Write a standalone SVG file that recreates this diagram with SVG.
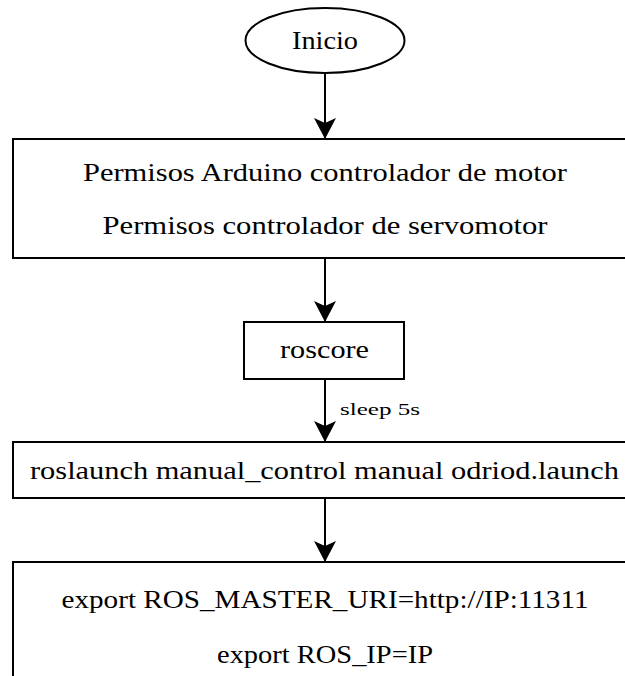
<svg xmlns="http://www.w3.org/2000/svg" width="625" height="676" viewBox="0 0 625 676">
  <style>
    .shape { fill: #ffffff; stroke: #000000; stroke-width: 2; }
    .label { font-family: "Liberation Serif", "Times New Roman", serif; font-size: 26px; fill: #000000; text-anchor: middle; }
    .small { font-family: "Liberation Serif", "Times New Roman", serif; font-size: 17px; fill: #000000; }
    .edge { stroke: #000000; stroke-width: 2; fill: none; marker-end: url(#arrow); }
  </style>
  <defs>
    <marker id="arrow" markerUnits="userSpaceOnUse" markerWidth="22" markerHeight="22" viewBox="0 0 22 22" refX="21" refY="11" orient="auto">
      <path d="M0,0 L21,11 L0,22 L5,11 Z" fill="#000000"/>
    </marker>
  </defs>
  <rect width="625" height="676" fill="#ffffff"/>

  <g id="connectors">
    <line class="edge" x1="325" y1="73" x2="325" y2="139"/>
    <line class="edge" x1="325" y1="258" x2="325" y2="322"/>
    <line class="edge" x1="325" y1="379" x2="325" y2="442"/>
    <line class="edge" x1="325" y1="498" x2="325" y2="562"/>
    <text class="small" x="340" y="415" textLength="80" lengthAdjust="spacingAndGlyphs">sleep 5s</text>
  </g>

  <g id="inicio">
    <ellipse class="shape" cx="325" cy="40.5" rx="79.5" ry="32.5"/>
    <text class="label" x="325" y="49" font-size="28" textLength="66" lengthAdjust="spacingAndGlyphs">Inicio</text>
  </g>

  <g id="permisos">
    <rect class="shape" x="13" y="139" width="625" height="119"/>
    <text class="label" x="325" y="181" textLength="484" lengthAdjust="spacingAndGlyphs">Permisos Arduino controlador de motor</text>
    <text class="label" x="325" y="234" textLength="445" lengthAdjust="spacingAndGlyphs">Permisos controlador de servomotor</text>
  </g>

  <g id="roscore">
    <rect class="shape" x="244" y="322" width="160" height="57"/>
    <text class="label" x="324.5" y="358" textLength="89" lengthAdjust="spacingAndGlyphs">roscore</text>
  </g>

  <g id="roslaunch">
    <rect class="shape" x="13" y="442" width="625" height="56"/>
    <text class="label" x="324.5" y="479" textLength="589" lengthAdjust="spacingAndGlyphs">roslaunch manual_control manual odriod.launch</text>
  </g>

  <g id="export">
    <rect class="shape" x="13" y="562" width="625" height="140"/>
    <text class="label" x="325" y="608" textLength="527" lengthAdjust="spacingAndGlyphs">export ROS_MASTER_URI=http://IP:11311</text>
    <text class="label" x="325" y="663" textLength="216" lengthAdjust="spacingAndGlyphs">export ROS_IP=IP</text>
  </g>
</svg>
